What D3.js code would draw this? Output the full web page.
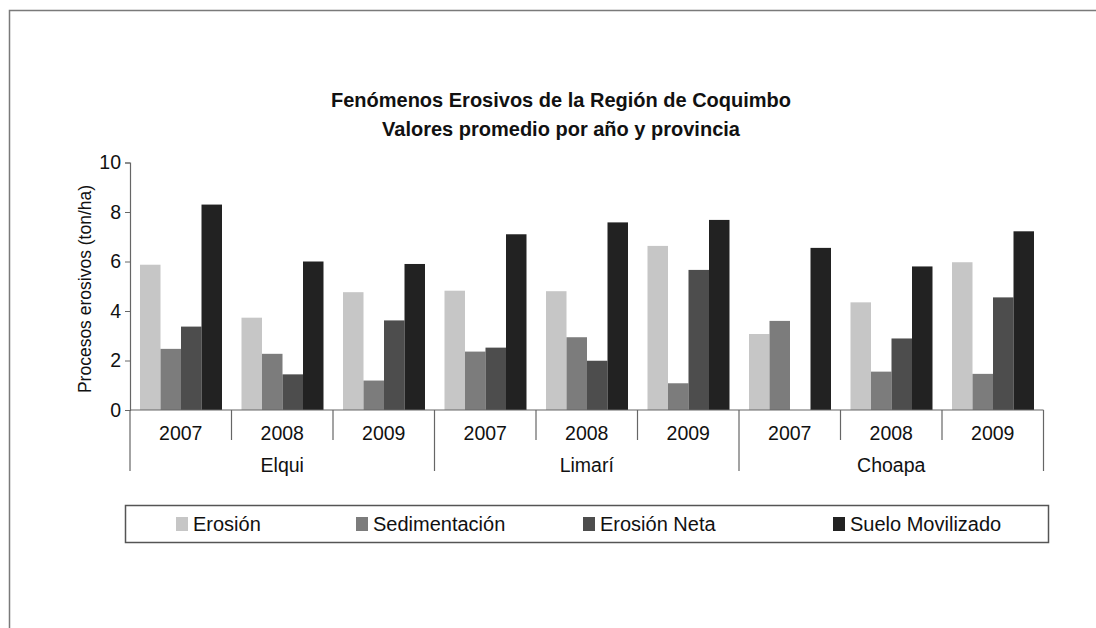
<!DOCTYPE html>
<html>
<head>
<meta charset="utf-8">
<script src="https://cdn.jsdelivr.net/npm/d3@7"></script>
<style>
  html, body { margin: 0; padding: 0; background: #fff; overflow: hidden; }
  svg { display: block; font-family: "Liberation Sans", Arial, sans-serif; }
</style>
</head>
<body>
<svg id="chart" width="1096" height="628"></svg>
<script>
const provinces = ["Elqui", "Limarí", "Choapa"];
const years = ["2007", "2008", "2009"];
const seriesNames = ["Erosión", "Sedimentación", "Erosión Neta", "Suelo Movilizado"];
const seriesColors = ["#c6c6c6", "#7c7c7c", "#4d4d4d", "#222222"];
// values per category (province x year), in series order
const erosion       = [5.87, 3.73, 4.76, 4.82, 4.80, 6.63, 3.07, 4.35, 5.97];
const sedimentacion = [2.47, 2.27, 1.19, 2.36, 2.94, 1.08, 3.60, 1.55, 1.46];
const erosionNeta   = [3.37, 1.44, 3.62, 2.52, 1.99, 5.66, 0.00, 2.89, 4.55];
const sueloMov      = [8.30, 6.00, 5.90, 7.10, 7.58, 7.68, 6.55, 5.80, 7.22];
const yTicks = [0, 2, 4, 6, 8, 10];
const titleLines = ["Fenómenos Erosivos de la Región de Coquimbo", "Valores promedio por año y provincia"];
const yLabel = "Procesos erosivos (ton/ha)";

const seriesValues = [erosion, sedimentacion, erosionNeta, sueloMov];
const categories = [];
provinces.forEach(p => years.forEach(y => categories.push(p + "|" + y)));

const svg = d3.select("#chart");

// outer frame (only top and left edges are inside the view)
svg.append("rect").attr("x", 9.5).attr("y", 10.5).attr("width", 1200).attr("height", 700)
  .attr("fill", "none").attr("stroke", "#7a7a7a").attr("stroke-width", 1.5);

const pLeft = 130, pRight = 1043.5, pTop = 162.5, pBottom = 410;
const x = d3.scaleBand().domain(categories).range([pLeft, pRight]).paddingInner(0).paddingOuter(0);
const xInner = d3.scaleBand().domain(seriesNames).range([10, x.bandwidth() - 9.5]);
const y = d3.scaleLinear().domain([0, 10]).range([pBottom, pTop]);

// title
svg.append("g").selectAll("text").data(titleLines).join("text")
  .attr("x", 561).attr("y", (d, i) => 107 + i * 29)
  .attr("text-anchor", "middle").attr("font-weight", "bold").attr("font-size", 20)
  .attr("fill", "#111").text(d => d);

// bars
const barG = svg.append("g");
seriesNames.forEach((s, si) => {
  barG.append("g").selectAll("rect").data(seriesValues[si]).join("rect")
    .attr("x", (d, i) => x(categories[i]) + xInner(s))
    .attr("width", xInner.bandwidth())
    .attr("y", d => y(d))
    .attr("height", d => y(0) - y(d))
    .attr("fill", seriesColors[si]);
});

// y axis
const yAxis = d3.axisLeft(y).tickValues(yTicks).tickSize(5).tickPadding(4).tickFormat(d3.format("d"));
const gy = svg.append("g").attr("transform", `translate(${pLeft},0)`).call(yAxis);
gy.select(".domain").attr("stroke", "#666").attr("stroke-width", 1.2);
gy.selectAll(".tick line").attr("stroke", "#666");
gy.selectAll(".tick text").attr("font-size", 19.5).attr("fill", "#111")
  .attr("font-family", "Liberation Sans, Arial, sans-serif");

// x axis baseline
svg.append("line").attr("x1", pLeft).attr("x2", pRight).attr("y1", pBottom).attr("y2", pBottom)
  .attr("stroke", "#666").attr("stroke-width", 1.2);

// year separators and labels
const seps = d3.range(categories.length + 1);
svg.append("g").selectAll("line").data(seps).join("line")
  .attr("x1", i => pLeft + i * x.bandwidth()).attr("x2", i => pLeft + i * x.bandwidth())
  .attr("y1", pBottom).attr("y2", i => (i % 3 === 0) ? 471 : 440)
  .attr("stroke", "#666").attr("stroke-width", 1.2);

svg.append("g").selectAll("text").data(categories).join("text")
  .attr("x", d => x(d) + x.bandwidth() / 2).attr("y", 440)
  .attr("text-anchor", "middle").attr("font-size", 19.5).attr("fill", "#111")
  .text(d => d.split("|")[1]);

svg.append("g").selectAll("text").data(provinces).join("text")
  .attr("x", (p, i) => pLeft + (i * 3 + 1.5) * x.bandwidth()).attr("y", 472)
  .attr("text-anchor", "middle").attr("font-size", 19.5).attr("fill", "#111")
  .text(d => d);

// y label
svg.append("text")
  .attr("transform", `translate(91,289) rotate(-90)`)
  .attr("text-anchor", "middle").attr("font-size", 17.5).attr("fill", "#111")
  .text(yLabel);

// legend
svg.append("rect").attr("x", 125.5).attr("y", 505.5).attr("width", 923).attr("height", 37)
  .attr("fill", "#fff").attr("stroke", "#555").attr("stroke-width", 1.5);
const legendX = [176, 356, 583, 833];
const lg = svg.append("g").selectAll("g").data(seriesNames).join("g")
  .attr("transform", (d, i) => `translate(${legendX[i]},524)`);
lg.append("rect").attr("x", 0).attr("y", -7).attr("width", 12).attr("height", 14)
  .attr("fill", (d, i) => seriesColors[i]);
lg.append("text").attr("x", 17).attr("y", 7).attr("font-size", 20).attr("fill", "#111")
  .text(d => d);
</script>
</body>
</html>
